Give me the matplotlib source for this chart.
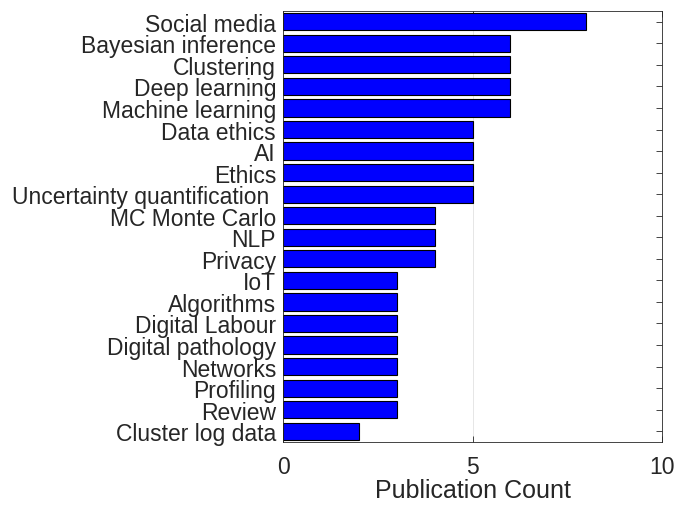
import matplotlib
matplotlib.use("Agg")
import matplotlib.pyplot as plt

keywords = [
    "Social media", "Bayesian inference", "Clustering", "Deep learning",
    "Machine learning", "Data ethics", "AI", "Ethics",
    "Uncertainty quantification ", "MC Monte Carlo", "NLP", "Privacy",
    "IoT", "Algorithms", "Digital Labour", "Digital pathology",
    "Networks", "Profiling", "Review", "Cluster log data",
]
counts = [8, 6, 6, 6, 6, 5, 5, 5, 5, 4, 4, 4, 3, 3, 3, 3, 3, 3, 3, 2]
x_ticks = [0, 5, 10]

plt.rcParams["font.family"] = ["Liberation Sans", "DejaVu Sans"]
text_col = "#262626"

fig = plt.figure(figsize=(6.77, 5.06), dpi=100)
ax = fig.add_axes([283 / 677, 1 - 443 / 506, (662 - 283) / 677, (443 - 12) / 506])

pos = list(range(1, len(keywords) + 1))
ax.barh(pos, counts, height=0.8, color="#0000ff", edgecolor="black",
        linewidth=0.8, zorder=2)

ax.set_ylim(len(keywords) + 0.5, 0.5)
ax.set_xlim(0, 10)
ax.set_yticks(pos)
ax.set_yticklabels(keywords, fontsize=16.5, color=text_col)
ax.set_xticks(x_ticks)
ax.set_xticklabels([str(t) for t in x_ticks], fontsize=16.5, color=text_col)
ax.set_xlabel("Publication Count", fontsize=18, color=text_col, labelpad=0)

ax.xaxis.grid(True, color="#e6e6e6", linewidth=0.7, zorder=0)
ax.set_axisbelow(True)
ax.tick_params(axis="both", direction="in", length=4, width=0.6,
               colors=text_col, top=True, right=True)
ax.tick_params(axis="y", pad=5)
ax.tick_params(axis="x", pad=9)
for s in ax.spines.values():
    s.set_color(text_col)
    s.set_linewidth(0.6)

fig.savefig("out.png", dpi=100)
